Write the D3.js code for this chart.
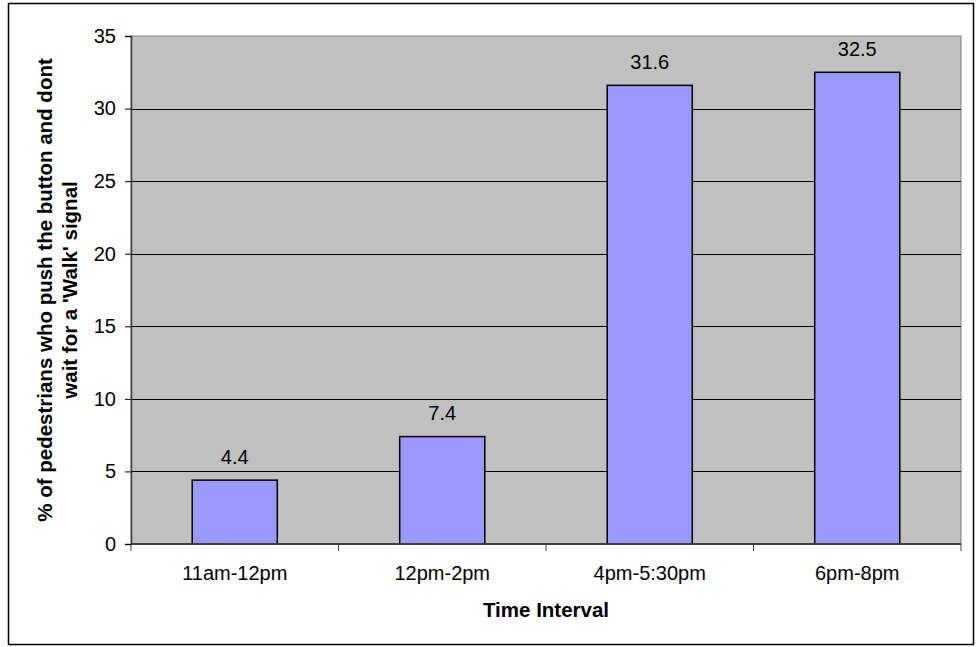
<!DOCTYPE html>
<html>
<head>
<meta charset="utf-8">
<script src="https://cdn.jsdelivr.net/npm/d3@7"></script>
<style>
  html, body { margin: 0; padding: 0; background: #fff; }
  svg { display: block; }
  text { font-family: "Liberation Sans", Arial, sans-serif; fill: #000; }
</style>
</head>
<body>
<svg id="chart" width="976" height="647"></svg>
<script>
const categories = ["11am-12pm", "12pm-2pm", "4pm-5:30pm", "6pm-8pm"];
const values = [4.4, 7.4, 31.6, 32.5];
const yTicks = [0, 5, 10, 15, 20, 25, 30, 35];
const xTitle = "Time Interval";
const yTitleLines = ["% of pedestrians who push the button and dont", "wait for a 'Walk' signal"];

const svg = d3.select("#chart");
const plot = { left: 131, right: 961, top: 36, bottom: 544 };

// outer border
svg.append("rect").attr("x", 8.5).attr("y", 3.5).attr("width", 965).attr("height", 641)
  .attr("fill", "#fff").attr("stroke", "#000").attr("stroke-width", 1.5);

const x = d3.scaleBand().domain(categories).range([plot.left, plot.right]).paddingInner(0.59).paddingOuter(0.295);
const y = d3.scaleLinear().domain([0, 35]).range([plot.bottom, plot.top]);

// plot background
svg.append("rect").attr("x", plot.left).attr("y", plot.top)
  .attr("width", plot.right - plot.left).attr("height", plot.bottom - plot.top)
  .attr("fill", "#C0C0C0").attr("stroke", "#808080").attr("stroke-width", 1);

// gridlines
svg.append("g").selectAll("line").data(yTicks.filter(t => t > 0 && t < 35)).join("line")
  .attr("x1", plot.left).attr("x2", plot.right)
  .attr("y1", d => Math.round(y(d)) + 0.5).attr("y2", d => Math.round(y(d)) + 0.5)
  .attr("stroke", "#000").attr("stroke-width", 1);

// bars
svg.append("g").selectAll("rect").data(values).join("rect")
  .attr("x", (d, i) => x(categories[i]))
  .attr("y", d => y(d))
  .attr("width", x.bandwidth())
  .attr("height", d => y(0) - y(d))
  .attr("fill", "#9999FF").attr("stroke", "#000").attr("stroke-width", 1.5);

// value labels
svg.append("g").selectAll("text").data(values).join("text")
  .attr("x", (d, i) => x(categories[i]) + x.bandwidth() / 2)
  .attr("y", d => y(d) - 16.5)
  .attr("text-anchor", "middle")
  .style("font-size", "20px")
  .text(d => d.toFixed(1));

// y axis
const yAxis = d3.axisLeft(y).tickValues(yTicks).tickSize(6).tickPadding(9);
const gy = svg.append("g").attr("transform", `translate(${plot.left},0)`).call(yAxis);
gy.select(".domain").attr("stroke", "#404040").attr("stroke-width", 1.5);
gy.selectAll(".tick line").attr("stroke", "#000");
gy.selectAll(".tick text").style("font-size", "20px").style("font-family", "'Liberation Sans', Arial, sans-serif").attr("fill", "#000");

// x axis
const xAxisG = svg.append("g").attr("transform", `translate(0,${plot.bottom})`);
xAxisG.append("line").attr("x1", plot.left).attr("x2", plot.right).attr("y1", 0).attr("y2", 0)
  .attr("stroke", "#404040").attr("stroke-width", 2);
const boundaries = d3.range(categories.length + 1).map(i => plot.left + i * (plot.right - plot.left) / categories.length);
xAxisG.selectAll("line.tk").data(boundaries).join("line").attr("class", "tk")
  .attr("x1", d => d).attr("x2", d => d).attr("y1", 0).attr("y2", 7)
  .attr("stroke", "#404040").attr("stroke-width", 1);
xAxisG.selectAll("text").data(categories).join("text")
  .attr("x", d => x(d) + x.bandwidth() / 2).attr("y", 36)
  .attr("text-anchor", "middle").style("font-size", "20px")
  .text(d => d);

// x title
svg.append("text").attr("x", (plot.left + plot.right) / 2).attr("y", 617)
  .attr("text-anchor", "middle").style("font-size", "20.5px").style("font-weight", "bold")
  .text(xTitle);

// y title
const yt = svg.append("text").attr("transform", `translate(52,${(plot.top + plot.bottom) / 2}) rotate(-90)`)
  .attr("text-anchor", "middle").style("font-size", "20.5px").style("font-weight", "bold");
yTitleLines.forEach((l, i) => yt.append("tspan").attr("x", 0).attr("y", i * 25).text(l));
</script>
</body>
</html>
